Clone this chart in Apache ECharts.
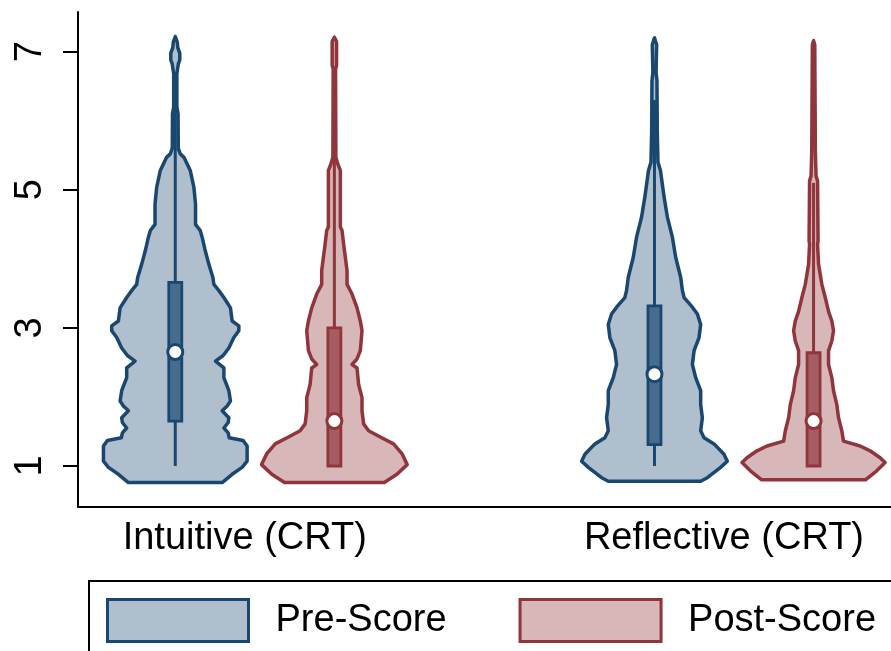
<!DOCTYPE html>
<html>
<head>
<meta charset="utf-8">
<style>html,body{margin:0;padding:0;background:#fff;}#chart{width:891px;height:651px;}</style>
<script src="https://cdn.jsdelivr.net/npm/echarts@6/dist/echarts.min.js"></script>
</head>
<body>
<div id="chart"></div>
<script>
// ---------------- data ----------------
const categories = ['Intuitive (CRT)', 'Reflective (CRT)'];
const seriesNames = ['Pre-Score', 'Post-Score'];
const yTicks = [1, 3, 5, 7];

// density profiles: [score, relative density]
const preIntuitive = [
  [0.76,47],[0.88,57],[0.98,67],[1.07,72],[1.29,72],[1.37,68],[1.41,54],[1.48,53],[1.55,48.7],[1.63,53],
  [1.70,53.7],[1.80,47],[1.87,52],[1.94,55.3],[2.09,53.7],[2.28,48.7],[2.42,48.7],[2.52,40.3],[2.60,48],
  [2.71,53.7],[2.86,58.7],[2.96,63.7],[3.03,63.7],[3.10,57],[3.29,55.3],[3.44,48.7],[3.54,43.7],
  [3.63,38.7],[3.73,37.7],[3.92,33.7],[4.12,30],[4.31,27],[4.41,25],[4.50,20.3],[4.79,20.3],
  [5.03,18.7],[5.28,15],[5.47,8.7],[5.52,5],[5.60,3],[6.10,2.8],[6.20,1.6],[6.68,1.6],[6.82,3],[6.88,4.5],[6.98,4.5],
  [7.06,2.5],[7.14,2],[7.22,0]
];
const postIntuitive = [
  [0.76,50],[0.88,62.7],[1.02,73],[1.18,67.7],[1.32,59.3],[1.42,46],[1.51,34.3],[1.61,29.3],[1.80,27.7],
  [1.99,27.7],[2.18,24.3],[2.42,22.7],[2.47,17.7],[2.55,22.7],[2.67,26],[2.96,27.7],[3.10,26],
  [3.29,22.7],[3.49,17.7],[3.63,12.7],[3.83,12.7],[4.02,11],[4.21,9.3],[4.41,7.7],[4.46,6],[5.28,6],
  [5.37,3.5],[5.47,1.5],[6.75,1.2],[6.80,2.2],[7.15,2.2],[7.21,0]
];
const preReflective = [
  [0.78,46.3],[0.83,53],[0.98,66.3],[1.07,73],[1.17,69.7],[1.32,59.7],[1.41,49.7],[1.51,46.3],[1.70,48],
  [1.89,46.3],[2.09,46.3],[2.28,41.3],[2.47,38],[2.67,39.7],[2.86,44.7],[3.05,46.3],[3.20,43],[3.30,38],
  [3.44,29.7],[3.54,28],[3.73,26.3],[4.02,21.3],[4.31,18],[4.60,13],[4.89,9.7],[5.28,6],[5.40,3.5],
  [5.86,2.8],[6.58,2.5],[6.70,1.6],[7.10,2.2],[7.20,0]
];
const postReflective = [
  [0.80,52],[0.93,63.3],[1.05,71.7],[1.12,66.7],[1.22,56.7],[1.29,46.7],[1.36,30],[1.51,28.3],[1.70,25],
  [1.89,23.3],[2.09,20],[2.28,18.3],[2.47,15],[2.67,15],[2.81,18.3],[2.96,20],[3.10,18.3],[3.24,15],
  [3.44,11.7],[3.63,8.3],[3.92,5],[4.21,4],[4.26,4.5],[5.13,4],[5.20,2.5],[5.57,1.8],[7.10,1.2],[7.16,0]
];

// box stats: [lower adjacent, q1, median, q3, upper adjacent]
const preIntuitiveBox = [1.0, 1.65, 2.65, 3.66, 6.7];
const postIntuitiveBox = [1.0, 1.0, 1.65, 3.0, 6.0];
const preReflectiveBox = [1.0, 1.31, 2.33, 3.32, 6.3];
const postReflectiveBox = [1.0, 1.0, 1.65, 2.64, 5.1];

// ---------------- layout / style ----------------
const profiles = [[preIntuitive, preReflective], [postIntuitive, postReflective]];
const boxes = [[preIntuitiveBox, preReflectiveBox], [postIntuitiveBox, postReflectiveBox]];
const lineColors = ['#1a476f', '#90353b'];
const fillColors = ['#afbfcd', '#d8b7b9'];
const boxColors = ['#486c8d', '#a65d62'];
const groupOffset = 0.166;     // x offset of each violin from group center
const maxHalfWidth = 0.152;    // half width (x units) of widest point
const densityMax = 73;
const FONT = "'Liberation Sans', Arimo, Arial, sans-serif";

function renderItem(params, api) {
  const s = params.seriesIndex, d = params.dataIndex;
  const prof = profiles[s][d];
  const bx = boxes[s][d];
  const cx = api.value(0);
  const pts = [];
  for (let i = 0; i < prof.length; i++) {
    const w = prof[i][1] / densityMax * maxHalfWidth;
    pts.push(api.coord([cx + w, prof[i][0]]));
  }
  for (let i = prof.length - 1; i >= 0; i--) {
    const w = prof[i][1] / densityMax * maxHalfWidth;
    pts.push(api.coord([cx - w, prof[i][0]]));
  }
  const c = lineColors[s];
  const pLow = api.coord([cx, bx[0]]);
  const pQ1 = api.coord([cx, bx[1]]);
  const pMed = api.coord([cx, bx[2]]);
  const pQ3 = api.coord([cx, bx[3]]);
  const pHigh = api.coord([cx, bx[4]]);
  const bw = 6.5;
  const children = [
    { type: 'polygon', shape: { points: pts },
      style: { fill: fillColors[s], stroke: c, lineWidth: 3.5, lineJoin: 'round' } },
    { type: 'line', shape: { x1: pLow[0], y1: pLow[1], x2: pQ1[0], y2: pQ1[1] },
      style: { stroke: c, lineWidth: 3 } },
    { type: 'line', shape: { x1: pQ3[0], y1: pQ3[1], x2: pHigh[0], y2: pHigh[1] },
      style: { stroke: c, lineWidth: 3 } },
    { type: 'rect', shape: { x: pQ3[0] - bw, y: pQ3[1], width: bw * 2, height: pQ1[1] - pQ3[1] },
      style: { fill: boxColors[s], stroke: c, lineWidth: 2.8 } },
    { type: 'circle', shape: { cx: pMed[0], cy: pMed[1], r: 7.5 },
      style: { fill: '#ffffff', stroke: c, lineWidth: 3 } }
  ];
  return { type: 'group', children: children };
}

const chart = echarts.init(document.getElementById('chart'), null, { renderer: 'canvas' });
const series = seriesNames.map((name, s) => ({
  type: 'custom',
  name: name,
  renderItem: renderItem,
  encode: { x: 0, y: 1 },
  data: categories.map((c, g) => [g + 1 + (s === 0 ? -groupOffset : groupOffset), boxes[s][g][2]]),
  itemStyle: { color: fillColors[s], borderColor: lineColors[s] },
  animation: false,
  silent: true
}));

const option = {
  backgroundColor: '#ffffff',
  animation: false,
  grid: { left: 78, right: 0, top: 12, bottom: 144.5, containLabel: false },
  xAxis: {
    type: 'value', min: 0.631, max: 2.3276,
    axisLine: { show: true, lineStyle: { color: '#000', width: 2 } },
    axisTick: { show: false },
    splitLine: { show: false },
    axisLabel: {
      customValues: categories.map((c, i) => i + 1 - 0.021),
      formatter: (v, idx) => categories[Math.round(v) - 1] || '',
      fontSize: 38, color: '#000', fontFamily: FONT, margin: 13
    }
  },
  yAxis: {
    type: 'value', min: 0.4135, max: 7.575,
    axisLine: { show: true, lineStyle: { color: '#000', width: 2 } },
    axisTick: { show: true, customValues: yTicks, length: 15, lineStyle: { color: '#000', width: 2 } },
    splitLine: { show: false },
    axisLabel: {
      customValues: yTicks, rotate: 90, fontSize: 38, color: '#000', fontFamily: FONT, margin: 28
    }
  },
  legend: {
    show: true,
    orient: 'horizontal',
    left: 89, top: 581,
    width: 1200,
    padding: 17,
    borderColor: '#000', borderWidth: 2,
    itemWidth: 141, itemHeight: 42, itemGap: 72,
    selectedMode: false,
    textStyle: { fontSize: 38, color: '#000', fontFamily: FONT, padding: [0, 0, 0, 22] },
    data: seriesNames.map((n, s) => ({
      name: n, icon: 'rect',
      itemStyle: { color: fillColors[s], borderColor: lineColors[s], borderWidth: 3 }
    }))
  },
  series: series
};
chart.setOption(option);
</script>
</body>
</html>
